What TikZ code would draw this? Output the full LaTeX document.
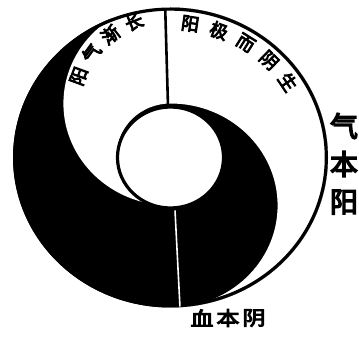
\documentclass[tikz,border=0pt]{standalone}
\usepackage{fontspec}
\newfontfamily\cjk{Noto Sans CJK SC}[FakeBold=5]
\begin{document}
\begin{tikzpicture}[x=1pt,y=1pt,
  lbl/.style={inner sep=0pt, font=\cjk\fontsize{18}{18}\selectfont},
  biglbl/.style={inner sep=0pt, font=\cjk\fontsize{28}{28}\selectfont},
  botlbl/.style={inner sep=0pt, font=\cjk\fontsize{23}{23}\selectfont, yscale=0.85}]
\useasboundingbox (0,0) rectangle (359,337);
\begin{scope}[shift={(170.5,179.5)}, xscale=1.05]
  \fill[black] (0,0) circle (150);
  \fill[white] (0,150) arc[start angle=90,end angle=-90,radius=150]
    arc[start angle=-90,end angle=90,radius=102]
    arc[start angle=90,end angle=270,radius=51]
    arc[start angle=270,end angle=90,radius=102] -- cycle;
  \draw[line width=3.2] (0,0) circle (148.4);
  \filldraw[fill=white, line width=3.2] (0,0) circle (50.5);
  \coordinate (ta) at (-5,148);
  \coordinate (tb) at (-2.4,52);
  \coordinate (ba) at (4.3,-53);
  \coordinate (bb) at (9,-149);
  \draw[line width=2.6] (ta) -- (tb);
  \draw[white, line width=1.6] (ba) -- (bb);
  \foreach \c/\a [count=\i] in {阳/160,气/144,渐/128,长/112}
    \node[lbl, rotate=\a-90] (tl\i) at ([shift={(\a:93)}]0,49.5) {\c};
  \foreach \c/\a [count=\i] in {阳/82,极/70,而/58,阴/46,生/34}
    \node[lbl, rotate=\a-90] (tr\i) at (\a:135) {\c};
\end{scope}
\node[biglbl] (r1) at (344,211) {气};
\node[biglbl] (r2) at (344,173) {本};
\node[biglbl] (r3) at (344,135) {阳};
\node[botlbl] (b1) at (202,19) {血};
\node[botlbl] (b2) at (228,19) {本};
\node[botlbl] (b3) at (254,19) {阴};
\end{tikzpicture}
\end{document}
